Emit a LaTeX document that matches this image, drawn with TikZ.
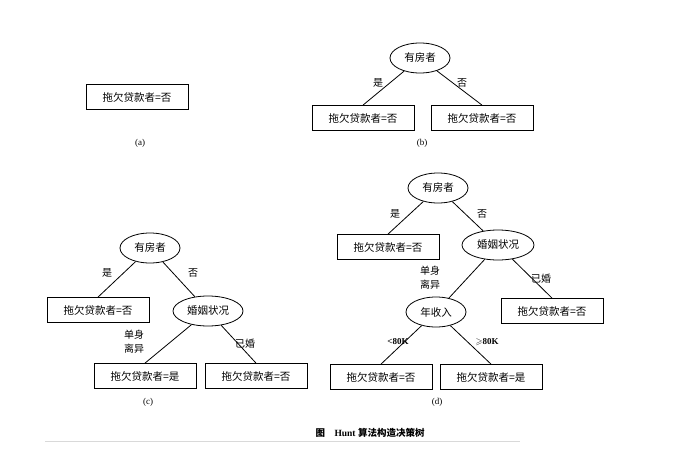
\documentclass[tikz,border=0pt]{standalone}
\usepackage{amssymb}
\usepackage{fontspec}
\setmainfont{Liberation Serif}
\newfontfamily\cjk{Noto Sans CJK SC}
\usetikzlibrary{shapes.geometric}
\begin{document}
\begin{tikzpicture}[x=1pt,y=-1pt,
  leaf/.style={draw,thick,minimum width=102pt,minimum height=25pt,inner sep=1pt,font=\cjk\fontsize{10.5}{12}\selectfont},
  test/.style={draw,thick,ellipse,minimum width=60pt,minimum height=30pt,inner sep=1pt,font=\cjk\fontsize{10.5}{12}\selectfont},
  lab/.style={font=\cjk\fontsize{10}{12}\selectfont,inner sep=0pt},
  sublab/.style={font=\fontsize{9}{11}\selectfont,inner sep=0pt},
  edge/.style={thick}]
\useasboundingbox (0,0) rectangle (690,463);
% (a)
\node[leaf] (a1) at (137,97) {拖欠贷款者=否};
\node[sublab] (la) at (140,143) {(a)};
% (b)
\node[test] (b0) at (420,58) {有房者};
\node[leaf] (b1) at (363,118) {拖欠贷款者=否};
\node[leaf] (b2) at (482,118) {拖欠贷款者=否};
\draw[edge] (b0) -- (b1.north);
\draw[edge] (b0) -- (b2.north);
\node[lab] (bl1) at (378,83) {是};
\node[lab] (bl2) at (462,83) {否};
\node[sublab] (lb) at (422,143) {(b)};
% (c)
\node[test] (c0) at (150,248) {有房者};
\node[leaf] (c1) at (98,310) {拖欠贷款者=否};
\node[test,minimum width=70pt] (c2) at (208,311) {婚姻状况};
\node[leaf] (c3) at (145,376) {拖欠贷款者=是};
\node[leaf] (c4) at (256,376) {拖欠贷款者=否};
\draw[edge] (c0) -- (c1.north);
\draw[edge] (c0) -- (c2);
\draw[edge] (c2) -- (c3.north);
\draw[edge] (c2) -- (c4.north);
\node[lab] (cl1) at (107,273) {是};
\node[lab] (cl2) at (193,273) {否};
\node[lab,align=center] (cl3) at (134,342) {单身\\[2pt]离异};
\node[lab] (cl4) at (245,344) {已婚};
\node[sublab] (lc) at (148,402) {(c)};
% (d)
\node[test] (d0) at (438,188) {有房者};
\node[leaf] (d1) at (388,247) {拖欠贷款者=否};
\node[test,minimum width=72pt] (d2) at (498,245) {婚姻状况};
\node[test] (d3) at (436,312) {年收入};
\node[leaf] (d4) at (552,311) {拖欠贷款者=否};
\node[leaf] (d5) at (381,377) {拖欠贷款者=否};
\node[leaf] (d6) at (491,377) {拖欠贷款者=是};
\draw[edge] (d0) -- (d1.north);
\draw[edge] (d0) -- (d2);
\draw[edge] (d2) -- (d3);
\draw[edge] (d2) -- (d4.north);
\draw[edge] (d3) -- (d5.north);
\draw[edge] (d3) -- (d6.north);
\node[lab] (dl1) at (395,214) {是};
\node[lab] (dl2) at (482,214) {否};
\node[lab,align=center] (dl3) at (430,278) {单身\\[2pt]离异};
\node[lab] (dl4) at (541,279) {已婚};
\node[sublab,font=\bfseries\fontsize{9}{11}\selectfont] (dl5) at (398,342) {<80K};
\node[sublab,font=\bfseries\fontsize{9}{11}\selectfont] (dl6) at (487,342) {$\geqslant$80K};
\node[sublab] (ld) at (437,402) {(d)};
% caption
\node[font=\fontsize{9.5}{11}\selectfont\bfseries] (capt) at (370,433) {{\cjk 图}\quad Hunt {\cjk 算法构造决策树}};
\draw[black!15,line width=1pt] (45,441) -- (520,441);
\end{tikzpicture}
\end{document}
